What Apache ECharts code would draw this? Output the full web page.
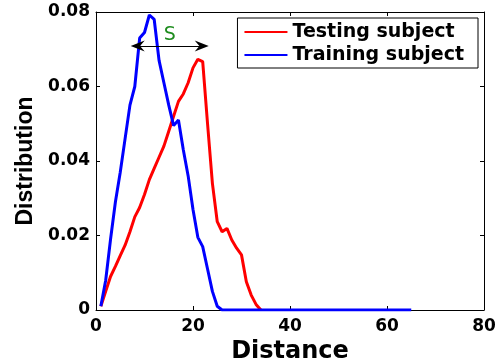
<!DOCTYPE html>
<html>
<head>
<meta charset="utf-8">
<script src="https://cdn.jsdelivr.net/npm/echarts@6/dist/echarts.min.js"></script>
<style>
  html, body { margin: 0; padding: 0; background: #fff; }
  #main { width: 496px; height: 362px; }
</style>
</head>
<body>
<div id="main"></div>
<script>
// distance values and distributions
var testX = [1, 2, 3, 4, 5, 6, 7, 8, 9, 10, 11, 12, 13, 14, 15, 16, 17, 18, 19, 20, 21, 22, 23, 24, 25, 26, 27, 28, 29, 30, 31, 32, 33, 34];
var testY = [0.001, 0.005, 0.009, 0.0117, 0.0146, 0.0174, 0.021, 0.025, 0.0275, 0.031, 0.035, 0.038, 0.041, 0.044, 0.048, 0.052, 0.056, 0.058, 0.061, 0.065, 0.0673, 0.0667, 0.050, 0.034, 0.0237, 0.021, 0.0219, 0.0188, 0.0166, 0.0148, 0.0076, 0.004, 0.0015, 0];

var trainX = [1, 2, 3, 4, 5, 6, 7, 8, 9, 10, 11, 12, 13, 14, 15, 16, 17, 18, 19, 20, 21, 22, 23, 24, 25, 26, 30, 40, 50, 60, 65];
var trainY = [0.001, 0.008, 0.019, 0.029, 0.037, 0.046, 0.055, 0.060, 0.073, 0.0745, 0.0792, 0.078, 0.067, 0.061, 0.055, 0.0495, 0.051, 0.043, 0.036, 0.027, 0.0195, 0.017, 0.011, 0.005, 0.001, 0, 0, 0, 0, 0, 0];

// the "S" shift arrow
var shiftFrom = [8.6, 0.0709];
var shiftTo = [21.8, 0.0709];

function pairs(xs, ys) {
  var out = [];
  for (var i = 0; i < xs.length; i++) out.push([xs[i], ys[i]]);
  return out;
}

var font = 'DejaVu Sans';
var chart = echarts.init(document.getElementById('main'));

var option = {
  animation: false,
  backgroundColor: '#fff',
  grid: { left: 96, right: 12, top: 12, bottom: 52, outerBoundsMode: 'none' },
  legend: {
    right: 18,
    top: 18,
    orient: 'vertical',
    icon: 'rect',
    itemWidth: 43,
    itemHeight: 2,
    itemGap: 3,
    padding: [4, 14, 3, 7],
    borderColor: '#000',
    borderWidth: 1,
    backgroundColor: '#fff',
    textStyle: { fontFamily: font, fontWeight: 'bold', fontSize: 19, lineHeight: 20, color: '#000' },
    data: ['Testing subject', 'Training subject']
  },
  xAxis: [{
    type: 'value',
    min: 0, max: 80, interval: 20,
    name: 'Distance',
    nameLocation: 'middle',
    nameGap: 27,
    nameTextStyle: { fontFamily: font, fontWeight: 'bold', fontSize: 24, color: '#000' },
    axisLine: { onZero: false, lineStyle: { color: '#000', width: 1 } },
    axisTick: { inside: true, length: 4, lineStyle: { color: '#000' } },
    axisLabel: { fontFamily: font, fontWeight: 'bold', fontSize: 17, color: '#000', margin: 8 },
    splitLine: { show: false }
  }, {
    type: 'value', position: 'top',
    min: 0, max: 80, interval: 20,
    axisLine: { onZero: false, lineStyle: { color: '#000', width: 1 } },
    axisTick: { inside: true, length: 4, lineStyle: { color: '#000' } },
    axisLabel: { show: false },
    splitLine: { show: false }
  }],
  yAxis: [{
    type: 'value',
    min: 0, max: 0.08, interval: 0.02,
    name: 'Distribution',
    nameLocation: 'middle',
    nameGap: 53,
    nameTextStyle: { fontFamily: 'Liberation Sans', fontWeight: 'bold', fontSize: 23, color: '#000' },
    axisLine: { show: true, onZero: false, lineStyle: { color: '#000', width: 1 } },
    axisTick: { inside: true, length: 4, lineStyle: { color: '#000' } },
    axisLabel: { fontFamily: font, fontWeight: 'bold', fontSize: 17, color: '#000', margin: 6 },
    splitLine: { show: false }
  }, {
    type: 'value', position: 'right',
    min: 0, max: 0.08, interval: 0.02,
    axisLine: { show: true, onZero: false, lineStyle: { color: '#000', width: 1 } },
    axisTick: { inside: true, length: 4, lineStyle: { color: '#000' } },
    axisLabel: { show: false },
    splitLine: { show: false }
  }],
  series: [{
    name: 'Testing subject',
    type: 'line',
    showSymbol: false,
    color: '#ff0000',
    lineStyle: { width: 3, color: '#ff0000' },
    data: pairs(testX, testY),
    z: 3
  }, {
    name: 'Training subject',
    type: 'line',
    showSymbol: false,
    color: '#0000ff',
    lineStyle: { width: 3, color: '#0000ff' },
    data: pairs(trainX, trainY),
    z: 4,
    markLine: {
      silent: true,
      symbol: ['path://M5,0 L10,12 L5,8 L0,12 Z', 'path://M5,0 L10,12 L5,8 L0,12 Z'],
      symbolSize: [11, 14],
      lineStyle: { color: '#000', width: 1, type: 'solid' },
      label: {
        show: true,
        position: 'middle',
        formatter: 'S',
        distance: 1,
        fontFamily: font,
        fontSize: 19,
        color: '#1e8c1e'
      },
      data: [[{ coord: shiftFrom }, { coord: shiftTo }]]
    }
  }]
};

chart.setOption(option);
</script>
</body>
</html>
